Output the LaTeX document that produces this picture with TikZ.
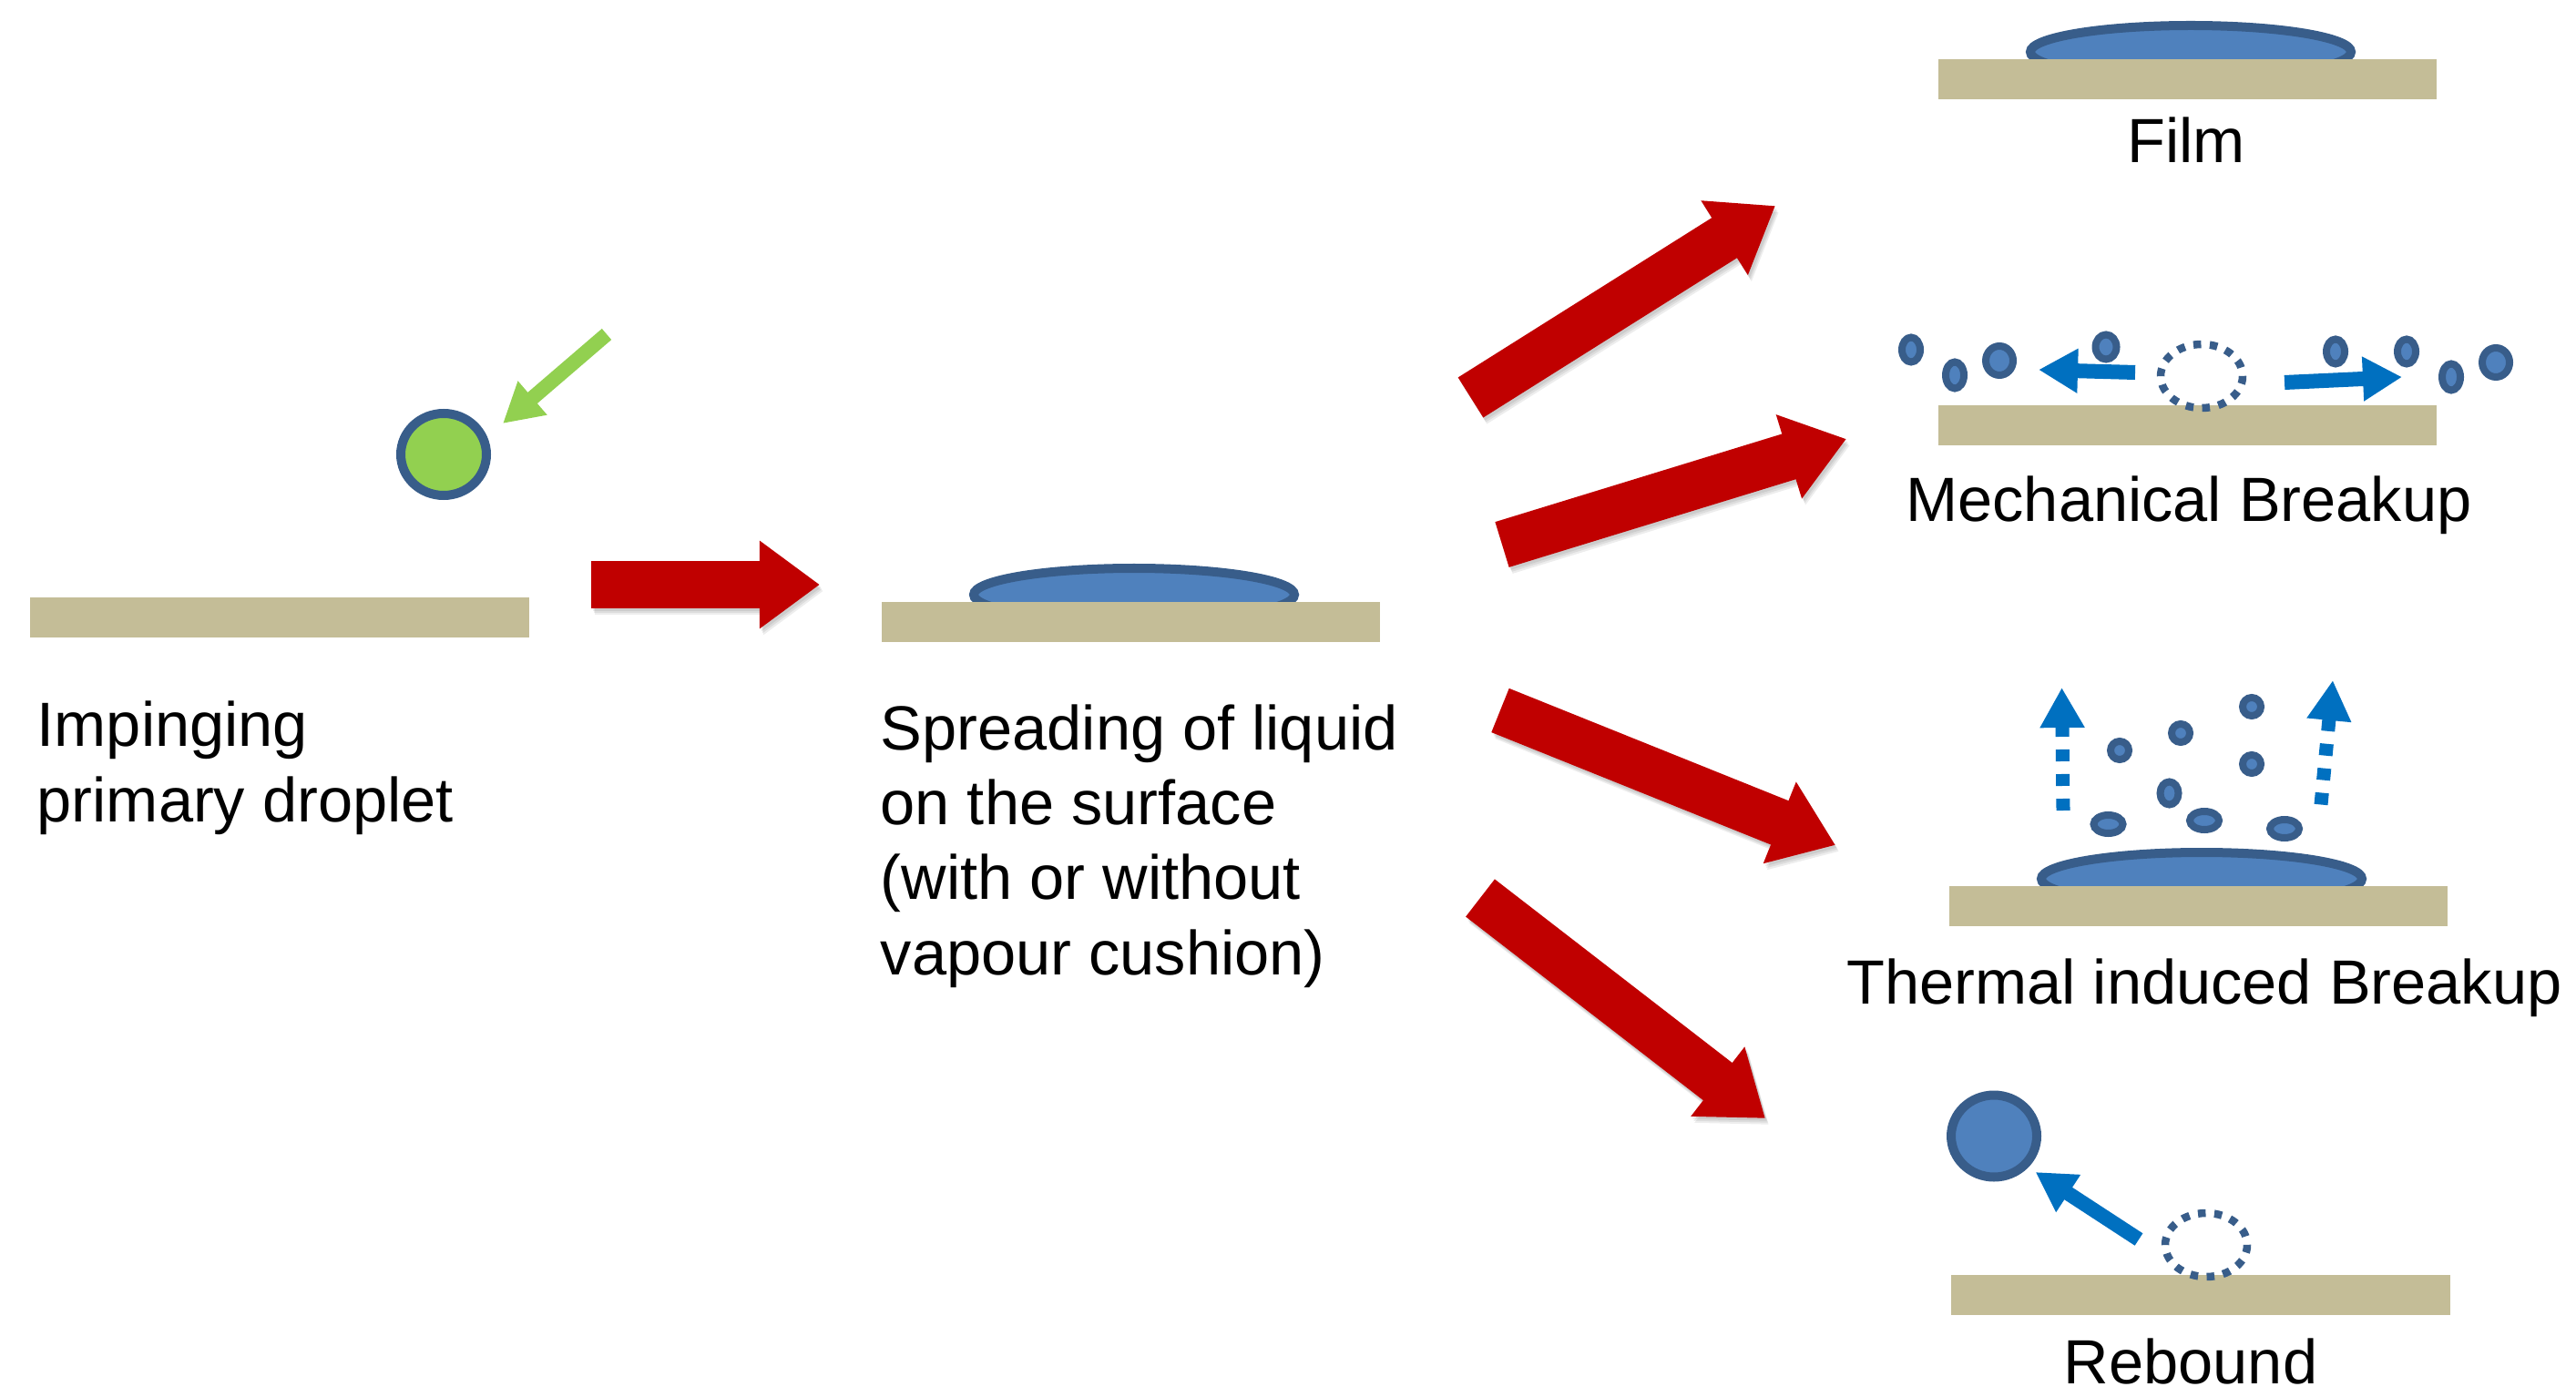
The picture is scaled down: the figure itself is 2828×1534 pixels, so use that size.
\documentclass[tikz,border=0pt]{standalone}
\usepackage{fontspec}
\setmainfont{Liberation Sans}
\usetikzlibrary{arrows.meta}
\definecolor{barc}{HTML}{C4BD97}
\definecolor{liq}{HTML}{4F81BD}
\definecolor{liqline}{HTML}{385D8A}
\definecolor{redarr}{HTML}{C00000}
\definecolor{bluearr}{HTML}{0070C0}
\definecolor{greenc}{HTML}{92D050}
\tikzset{
  surface/.style={fill=barc,draw=none},
  droplet/.style={fill=liq,draw=liqline,line width=.08cm},
  bigdrop/.style={fill=liq,draw=liqline,line width=.10cm},
  greendrop/.style={fill=greenc,draw=liqline,line width=.10cm},
  ghost/.style={draw=liqline,line width=.085cm,dash pattern=on .085cm off .095cm},
  film/.style={fill=liq,draw=liqline,line width=.10cm},
  redarrow/.style={draw=redarr,line width=.52cm,-{Triangle[length=.66cm,width=.92cm,fill=redarr]}},
  shadowarrow/.style={draw=black,opacity=.07,line width=.52cm,-{Triangle[length=.66cm,width=.92cm,fill=black]}},
  bluearrow/.style={draw=bluearr,line width=.16cm,-{Triangle[length=.43cm,width=.46cm,fill=bluearr]}},
  dotarrow/.style={draw=bluearr,line width=.15cm,dash pattern=on .13cm off .14cm,-{Triangle[length=.44cm,width=.46cm,fill=bluearr]}},
  greenarrow/.style={draw=greenc,line width=.16cm,-{Triangle[length=.43cm,width=.46cm,fill=greenc]}},
  label/.style={font=\fontsize{19.5}{23.7}\selectfont,inner sep=0pt,text=black},
  block/.style={label,anchor=north west,align=left}
}
\newcommand{\bigred}[2]{%
  \draw[shadowarrow,transform canvas={xshift=.02cm,yshift=-.03cm}] (#1) -- (#2);
  \draw[shadowarrow,transform canvas={xshift=.03cm,yshift=-.05cm}] (#1) -- (#2);
  \draw[shadowarrow,transform canvas={xshift=.04cm,yshift=-.07cm}] (#1) -- (#2);
  \draw[redarrow] (#1) -- (#2);}
\begin{document}
\begin{tikzpicture}[x=.01cm,y=-.01cm]
\useasboundingbox (0,0) rectangle (2828,1534);
% lenses of liquid, covered below by their surfaces
\draw[film] (1245,653) ellipse [x radius=176,y radius=29];
\draw[film] (2405,57) ellipse [x radius=176,y radius=29];
\draw[film] (2417,965) ellipse [x radius=176,y radius=29];
% surfaces
\fill[surface] (33,656) rectangle (581,700);
\fill[surface] (968,661) rectangle (1515,705);
\fill[surface] (2128,65) rectangle (2675,109);
\fill[surface] (2128,445) rectangle (2675,489);
\fill[surface] (2140,973) rectangle (2687,1017);
\fill[surface] (2142,1400) rectangle (2690,1444);
% impinging droplet
\draw[greendrop] (487,499) ellipse [x radius=47,y radius=45];
\coordinate (g1) at (666,367); \coordinate (g2) at (552,465);
\draw[greenarrow] (g1) -- (g2);
% red arrows
\coordinate (r0a) at (649,642); \coordinate (r0b) at (900,642);
\coordinate (r1a) at (1614.5,436.5); \coordinate (r1b) at (1949,226);
\coordinate (r2a) at (1649,598); \coordinate (r2b) at (2027,482);
\coordinate (r3a) at (1647,780); \coordinate (r3b) at (2015,928);
\coordinate (r4a) at (1625,986); \coordinate (r4b) at (1938,1228);
\bigred{r0a}{r0b}
\bigred{r1a}{r1b}
\bigred{r2a}{r2b}
\bigred{r3a}{r3b}
\bigred{r4a}{r4b}
% mechanical breakup
\foreach \x/\y/\a/\b in {2098/384/10/13.5,2146/412/10/14.5,2195/396/15/16,2312/381/11.5/13.5,2564/386/10/13.5,2642/386/10/13.5,2691/414/10/14.5,2740/398/15/16}
  \draw[droplet] (\x,\y) ellipse [x radius=\a,y radius=\b];
\draw[ghost] (2417,413) ellipse [x radius=45,y radius=35];
\coordinate (m1a) at (2344,409); \coordinate (m1b) at (2238,406);
\coordinate (m2a) at (2508,420); \coordinate (m2b) at (2637,414);
\draw[bluearrow] (m1a) -- (m1b);
\draw[bluearrow] (m2a) -- (m2b);
% thermal induced breakup
\foreach \x/\y/\a/\b in {2327/824/10/10,2394/805/10/10,2472/776/10/10,2472/839/10/10,2381.5/871/10/12.5,2314.5/905/16/10,2420/901/16/10,2508/910/16/10}
  \draw[droplet] (\x,\y) ellipse [x radius=\a,y radius=\b];
\coordinate (t1a) at (2265,890); \coordinate (t1b) at (2263.5,755);
\coordinate (t2a) at (2548,883.5); \coordinate (t2b) at (2561,747);
\draw[dotarrow] (t1a) -- (t1b);
\draw[dotarrow] (t2a) -- (t2b);
% rebound
\draw[bigdrop] (2189,1247.5) ellipse [x radius=47,y radius=45];
\draw[ghost] (2422,1367) ellipse [x radius=45,y radius=35];
\coordinate (b1a) at (2348,1361); \coordinate (b1b) at (2234.6,1287);
\draw[bluearrow] (b1a) -- (b1b);
% labels
\node[label,anchor=base] (film) at (2400,179) {Film};
\node[label,anchor=base] (mech) at (2403,573) {Mechanical Breakup};
\node[label,anchor=base] (therm) at (2420,1102) {Thermal induced Breakup};
\node[label,anchor=base] (reb) at (2405,1519) {Rebound};
\node[block] (imp) at (40,769) {Impinging\\primary droplet};
\node[block,font=\fontsize{19.5}{23.4}\selectfont] (spr) at (966,773) {Spreading of liquid\\on the surface\\(with or without\\vapour cushion)};
\end{tikzpicture}
\end{document}
